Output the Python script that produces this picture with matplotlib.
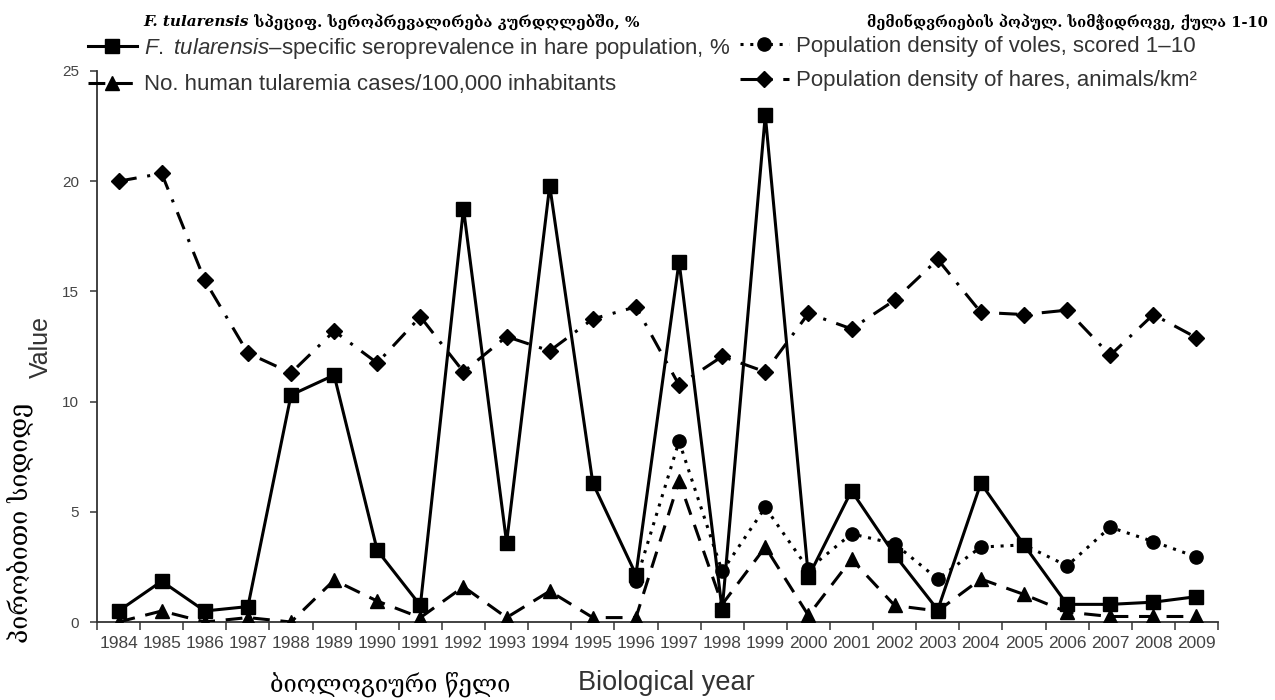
import numpy as np
import matplotlib
matplotlib.use("Agg")
import matplotlib.pyplot as plt

plt.rcParams['font.family'] = ['Liberation Sans', 'DejaVu Sans']
plt.rcParams['mathtext.fontset'] = 'custom'
plt.rcParams['mathtext.it'] = 'Liberation Sans:italic'
plt.rcParams['mathtext.rm'] = 'Liberation Sans'

years = list(range(1984, 2010))

# F. tularensis seroprevalence in hares, %
sero = [0.5, 1.85, 0.5, 0.7, 10.3, 11.2, 3.25, 0.75, 18.75, 3.6, 19.8, 6.3, 2.15,
        16.35, 0.55, 23.0, 2.05, 5.95, 3.05, 0.55, 6.3, 3.5, 0.8, 0.8, 0.9, 1.15]
# human tularemia cases / 100,000
human = [0.0, 0.5, 0.0, 0.2, 0.0, 1.9, 0.95, 0.2, 1.6, 0.2, 1.4, 0.2, 0.2,
         6.4, 0.8, 3.4, 0.3, 2.85, 0.75, 0.5, 1.95, 1.25, 0.45, 0.25, 0.25, 0.25]
# vole density score 1-10 (recorded from 1996)
voles = [np.nan] * 12 + [1.85, 8.2, 2.3, 5.2, 2.4, 4.0, 3.55, 1.95, 3.4, 3.5,
                         2.55, 4.3, 3.65, 2.95]
# hare density, animals/km2
hares = [20.0, 20.35, 15.5, 12.2, 11.3, 13.2, 11.75, 13.85, 11.35, 12.95, 12.3,
         13.75, 14.3, 10.75, 12.05, 11.35, 14.0, 13.3, 14.6, 16.45, 14.05, 13.95,
         14.15, 12.1, 13.95, 12.9]

lab_sero = r"$\it{F.\ tularensis}$–specific seroprevalence in hare population, %"
lab_human = "No. human tularemia cases/100,000 inhabitants"
lab_voles = "Population density of voles, scored 1–10"
lab_hares = "Population density of hares, animals/km²"

geo_left = " სპეციფ. სეროპრევალირება კურდღლებში, %"
geo_right = "მემინდვრიების პოპულ. სიმჭიდროვე, ქულა 1-10"
geo_y = "პირობითი სიდიდე"
geo_x = "ბიოლოგიური წელი"

W, H = 1275, 700
fig = plt.figure(figsize=(W / 100, H / 100), dpi=100)
ax = fig.add_axes([97 / W, 1 - 622 / H, (1218 - 97) / W, (622 - 71) / H])

x = np.arange(len(years))
lw = 2.2
l1, = ax.plot(x, sero, color="black", lw=lw, marker="s", ms=10.5, label=lab_sero, zorder=4)
l2, = ax.plot(x, human, color="black", lw=lw, ls=(0, (5.5, 3.5)), marker="^", ms=9.5,
              label=lab_human, zorder=3)
l3, = ax.plot(x, voles, color="black", lw=lw, ls=(0, (1, 2.2)), marker="o", ms=9.5,
              label=lab_voles, zorder=3)
l4, = ax.plot(x, hares, color="black", lw=lw, ls=(0, (6, 3.5, 1, 3.5)), marker="D", ms=8.5,
              label=lab_hares, zorder=3)

ax.set_xlim(-0.5, len(years) - 0.5)
ax.set_ylim(0, 25)
ax.set_yticks([0, 5, 10, 15, 20, 25])
ax.set_xticks(np.arange(-0.5, len(years), 1.0))
ax.set_xticklabels([])
ax.set_xticks(x, minor=True)
ax.set_xticklabels([str(y) for y in years], minor=True, fontsize=12.5, color="#444444")
ax.tick_params(axis="x", which="major", length=6, width=1.2, color="#444444", direction="out")
ax.tick_params(axis="x", which="minor", length=0, pad=10)
ax.tick_params(axis="y", length=5, width=1.2, color="#444444", labelsize=11,
               labelcolor="#444444", pad=8)

for side in ["top", "right"]:
    ax.spines[side].set_visible(False)
for side in ["left", "bottom"]:
    ax.spines[side].set_linewidth(1.3)
    ax.spines[side].set_color("#333333")

ax.set_ylabel("Value", fontsize=18, color="#333333")
ax.yaxis.set_label_coords((53 - 97) / 1121, 0.5)
ax.set_xlabel("Biological year", fontsize=19.5, color="#333333")
ax.xaxis.set_label_coords(0.508, (622 - 670) / 551)

fig.text(20 / W, 1 - 523 / H, geo_y, rotation=90, ha="center", va="center",
         fontsize=18, family=["DejaVu Serif"])
fig.text(390 / W, 1 - 684 / H, geo_x, ha="center", va="center",
         fontsize=17, family=["DejaVu Serif"])

t1 = fig.text(143 / W, 1 - 22 / H, "F. tularensis", ha="left", va="center",
              fontsize=11, family=["DejaVu Serif"], weight="bold", style="italic")
fig.canvas.draw()
bb = t1.get_window_extent()
fig.text(bb.x1 / W, 1 - 22 / H, geo_left, ha="left", va="center",
         fontsize=11, family=["DejaVu Serif"], weight="bold")
fig.text(1268 / W, 1 - 22 / H, geo_right, ha="right", va="center",
         fontsize=10.5, family=["DejaVu Serif"], weight="bold")

leg_kw = dict(loc="upper left", frameon=False, fontsize=16, handlelength=2.2,
              handletextpad=0.3, labelspacing=0.6, borderaxespad=0, borderpad=0)
leg1 = fig.legend([l1, l2], [lab_sero, lab_human],
                  bbox_to_anchor=(88 / W, 1 - 36 / H), **leg_kw)
leg2 = fig.legend([l3, l4], [lab_voles, lab_hares],
                  bbox_to_anchor=(740 / W, 1 - 36 / H), **leg_kw)
for leg in (leg1, leg2):
    for t in leg.get_texts():
        t.set_color("#333333")

fig.savefig("out.png", dpi=100)
